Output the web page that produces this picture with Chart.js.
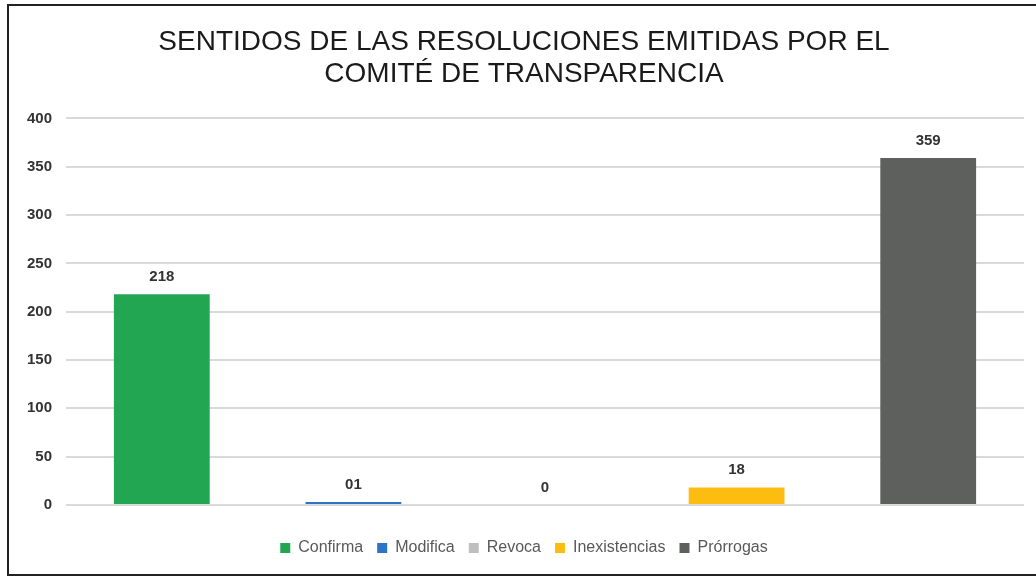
<!DOCTYPE html>
<html>
<head>
<meta charset="utf-8">
<script src="https://cdn.jsdelivr.net/npm/chart.js@4"></script>
<style>
  body { margin: 0; background: #fff; }
  #frame { position: absolute; left: 7px; top: 4px; width: 1040px; height: 568px;
           border-left: 2px solid #222; border-top: 2px solid #222; border-bottom: 2px solid #222; }
  #wrap { position: absolute; left: 0; top: 0; width: 1036px; height: 576px; }
</style>
</head>
<body>
<div id="frame"></div>
<div id="wrap"><canvas id="myChart" width="1036" height="576"></canvas></div>
<script>
let series = ['Confirma', 'Modifica', 'Revoca', 'Inexistencias', 'Prórrogas'];
let values = [218, 1, 0, 18, 359];
let valueLabels = ['218', '01', '0', '18', '359'];
let colors = ['#23a651', '#2e74c4', '#bfbfbf', '#fdbd10', '#5e605e'];
let yTicks = [0, 50, 100, 150, 200, 250, 300, 350, 400];

// etiquetas encima de cada barra
const barLabels = {
    id: 'barLabels',
    afterDatasetsDraw(chart){
        const ctx = chart.ctx;
        ctx.save();
        ctx.font = 'bold 15px "Liberation Sans", Arial, sans-serif';
        ctx.fillStyle = '#333';
        ctx.textAlign = 'center';
        ctx.textBaseline = 'bottom';
        chart.data.datasets.forEach((ds, i) => {
            const bar = chart.getDatasetMeta(i).data[0];
            ctx.fillText(valueLabels[i], bar.x, bar.y - 10);
        });
        ctx.restore();
    }
};

function createChart(){
  const ctx = document.getElementById('myChart');

  new Chart(ctx, {
    type: 'bar',
    data: {
      labels: [''],
      datasets: series.map((name, i) => ({
        label: name,
        data: [values[i]],
        backgroundColor: colors[i],
        borderWidth: 0,
        barPercentage: 0.5,
        categoryPercentage: 1,
        minBarLength: values[i] > 0 ? 3 : 0
      }))
    },
    options: {
      responsive: false,
      animation: false,
      layout: { padding: { left: 24, right: 12, top: 0, bottom: 10 } },
      plugins: {
        title: {
          display: true,
          text: ['SENTIDOS DE LAS RESOLUCIONES EMITIDAS POR EL', 'COMITÉ DE TRANSPARENCIA'],
          color: '#1a1a1a',
          font: { family: '"Liberation Sans", Arial, sans-serif', size: 28, weight: 'normal', lineHeight: 1.15 },
          padding: { top: 26, bottom: 28 }
        },
        legend: {
          position: 'bottom',
          labels: {
            boxWidth: 10,
            boxHeight: 10,
            padding: 14,
            color: '#595959',
            font: { family: '"Liberation Sans", Arial, sans-serif', size: 16 }
          }
        },
        tooltip: { enabled: false }
      },
      scales: {
        x: {
          grid: { display: false },
          border: { display: false },
          ticks: { display: false },
          afterFit: (scale) => { scale.height = 21; }
        },
        y: {
          min: 0,
          max: 400,
          afterBuildTicks: (scale) => { scale.ticks = yTicks.map(v => ({ value: v })); },
          afterFit: (scale) => { scale.width = 42; },
          grid: { color: '#d9d9d9', lineWidth: 2, drawTicks: false },
          border: { display: false },
          ticks: {
            padding: 14,
            color: '#333',
            font: { family: '"Liberation Sans", Arial, sans-serif', size: 15, weight: 'bold' }
          }
        }
      }
    },
    plugins: [barLabels]
  });
}
createChart();
</script>
</body>
</html>
